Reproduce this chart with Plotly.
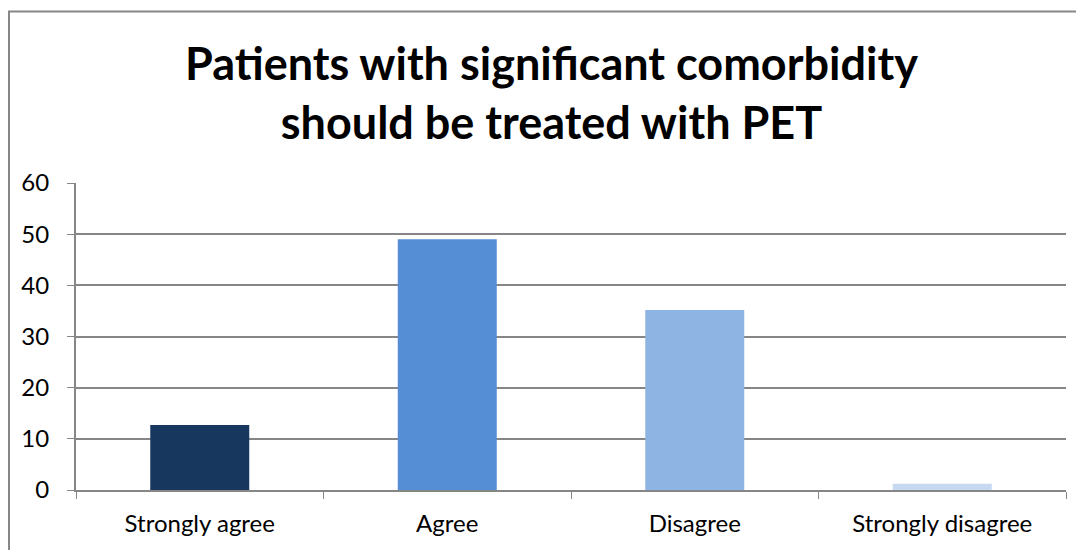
import plotly.graph_objects as go

categories = ["Strongly agree", "Agree", "Disagree", "Strongly disagree"]
values = [12.7, 49.0, 35.2, 1.2]
colors = ["#17375E", "#558ED5", "#8EB4E3", "#C6D9F1"]
y_ticks = [0, 10, 20, 30, 40, 50, 60]

fig = go.Figure(go.Bar(x=categories, y=values, marker=dict(color=colors, line=dict(width=0)), width=0.4))

fig.update_layout(
    width=1076, height=542,
    margin=dict(l=68, r=18, t=175, b=60, autoexpand=False),
    paper_bgcolor="white", plot_bgcolor="white",
    font=dict(family="Lato, Carlito, Liberation Sans, sans-serif", color="black", size=24),
    title=dict(text="<b>Patients with significant comorbidity<br>should be treated with PET</b>",
               x=0.5051, xanchor="center", xref="container", y=0.867, yref="container", yanchor="middle",
               font=dict(size=45, family="Lato, Carlito, sans-serif")),
    showlegend=False,
)
fig.update_xaxes(type="category", tickson="boundaries", ticks="outside", ticklen=7, tickcolor="#868686",
                 showline=True, linecolor="#868686", linewidth=2, showgrid=False, automargin=False,
                 ticklabelstandoff=11)
fig.update_yaxes(range=[0, 60], tickvals=y_ticks, ticks="outside", ticklen=7, tickcolor="#868686",
                 showline=True, linecolor="#868686", linewidth=2, gridcolor="#868686", gridwidth=1.5,
                 zeroline=False, ticklabelstandoff=13, automargin=False)

# chart border (extends beyond page at right and bottom)
fig.add_shape(type="rect", xref="paper", yref="paper", x0=-0.0677, x1=1.05, y0=-0.5, y1=1.5587,
              line=dict(color="#868686", width=2), layer="below")

fig.write_html("out.html")
